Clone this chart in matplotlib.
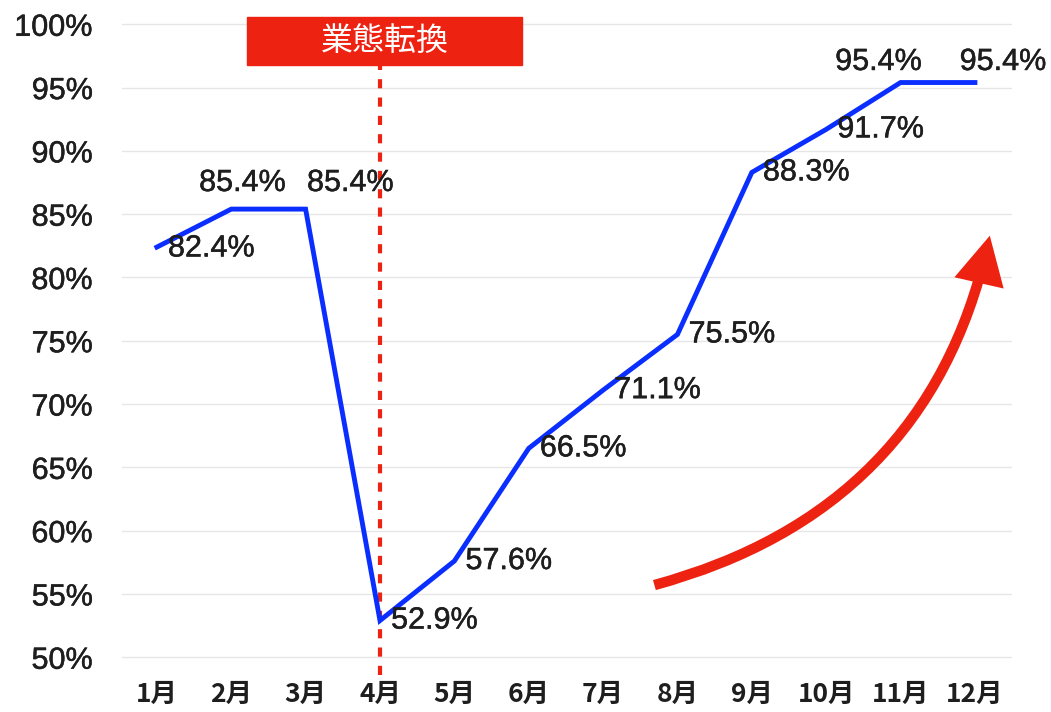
import matplotlib
matplotlib.use("Agg")
import matplotlib.pyplot as plt
import matplotlib.patheffects as pe
from matplotlib.patches import FancyArrowPatch, Rectangle

plt.rcParams['font.family'] = ['Liberation Sans', 'Noto Sans CJK JP', 'DejaVu Sans']

# data
months = ["1月", "2月", "3月", "4月", "5月", "6月", "7月", "8月", "9月", "10月", "11月", "12月"]
rates = [82.4, 85.4, 85.4, 52.9, 57.6, 66.5, 71.1, 75.5, 88.3, 91.7, 95.4, 95.4]
yticks = [50, 55, 60, 65, 70, 75, 80, 85, 90, 95, 100]
# label placement per point: (dx points, dy points, ha, va)
label_pos = [
    (8, -1, "left", "center"),
    (8, 8, "center", "bottom"),
    (1, 8, "left", "bottom"),
    (8, 0, "left", "center"),
    (8, 0, "left", "center"),
    (8, 0, "left", "center"),
    (8, 0, "left", "center"),
    (8, 0, "left", "center"),
    (8, 0, "left", "center"),
    (8, 0, "left", "center"),
    (-16, 4, "center", "bottom"),
    (-11, 4, "left", "bottom"),
]

medium = [pe.withStroke(linewidth=0.35, foreground="#1e1e1e")]

fig = plt.figure(figsize=(10.51, 7.12), dpi=100)
ax = fig.add_axes([0.116, 0.052, 0.847, 0.921])

x = list(range(len(months)))
ax.plot(x, rates, color="#0a2eff", lw=3.5, zorder=3, solid_joinstyle="miter")

for i, v in enumerate(rates):
    dx, dy, ha, va = label_pos[i]
    ax.annotate(f"{v}%", (i, v), xytext=(dx, dy), textcoords="offset points",
                ha=ha, va=va, fontsize=22, color="#1e1e1e", zorder=4, path_effects=medium)

# 業態転換 marker
ax.plot([3, 3], [48.6, 96.8], color="#ee2211", lw=3, ls=(0, (2.2, 2.2)), zorder=2, clip_on=False)
ax.add_patch(Rectangle((1.21, 96.8), 3.7, 3.75, color="#ee2211", clip_on=False, zorder=5))
ax.text(3.06, 98.6, "業態転換", color="white", fontsize=23, ha="center", va="center",
        family="Noto Sans CJK JP", zorder=6)

# upward arrow
arrow = FancyArrowPatch((6.69, 55.7), (11.2, 83.3), connectionstyle="arc3,rad=0.3",
                        arrowstyle="-|>,head_length=23,head_width=12", mutation_scale=1,
                        shrinkA=0, shrinkB=0, lw=7.5, color="#ee2211", joinstyle="miter",
                        capstyle="butt", zorder=3)
ax.add_patch(arrow)

ax.set_xlim(-0.47, 11.5)
ax.set_ylim(48.6, 100.4)
ax.set_yticks(yticks)
ax.set_yticklabels([f"{t}%" for t in yticks], fontsize=22, color="#1e1e1e")
for lab in ax.get_yticklabels():
    lab.set_path_effects(medium)
ax.set_xticks(x)
ax.set_xticklabels(months, fontsize=19, fontweight="bold", color="#1e1e1e",
                   family="Noto Sans CJK JP")
ax.tick_params(length=0, axis="y", pad=21)
ax.tick_params(length=0, axis="x", pad=4)
ax.grid(axis="y", color="#e6e6e6", lw=1)
ax.set_axisbelow(True)
for s in ax.spines.values():
    s.set_visible(False)

fig.savefig("out.png", dpi=100)
